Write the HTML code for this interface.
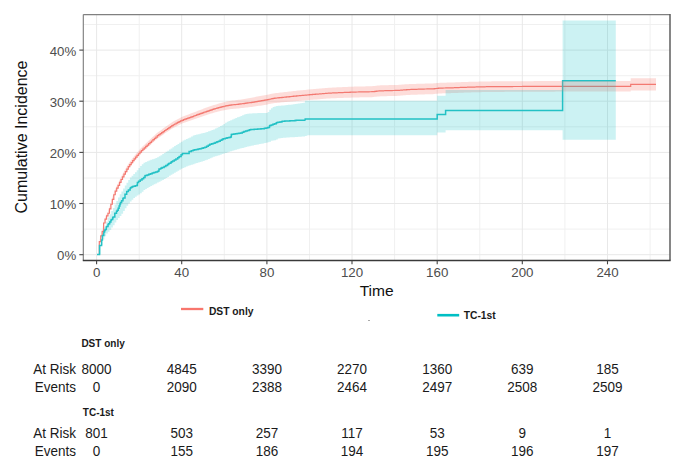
<!DOCTYPE html>
<html><head><meta charset="utf-8"><style>
html,body{margin:0;padding:0;background:#fff;}
svg{display:block;}
text{font-family:"Liberation Sans",sans-serif;}
.gmin{stroke:#f0f0f0;stroke-width:1;}
.gmaj{stroke:#e8e8e8;stroke-width:1;}
.tk{stroke:#444;stroke-width:1.1;}
.tl{font-size:13.5px;fill:#4d4d4d;}
.tl2{font-size:13.6px;fill:#4d4d4d;}
.tb{font-size:14px;fill:#1a1a1a;}
.bd{font-size:10px;font-weight:bold;fill:#1a1a1a;}
</style></head><body>
<svg width="685" height="472" viewBox="0 0 685 472">
<rect width="685" height="472" fill="#fff"/>
<line x1="139.2" y1="14.6" x2="139.2" y2="260.5" class="gmin"/><line x1="224.3" y1="14.6" x2="224.3" y2="260.5" class="gmin"/><line x1="309.5" y1="14.6" x2="309.5" y2="260.5" class="gmin"/><line x1="394.6" y1="14.6" x2="394.6" y2="260.5" class="gmin"/><line x1="479.8" y1="14.6" x2="479.8" y2="260.5" class="gmin"/><line x1="564.9" y1="14.6" x2="564.9" y2="260.5" class="gmin"/><line x1="650.1" y1="14.6" x2="650.1" y2="260.5" class="gmin"/><line x1="83.3" y1="229.1" x2="670.0" y2="229.1" class="gmin"/><line x1="83.3" y1="178.0" x2="670.0" y2="178.0" class="gmin"/><line x1="83.3" y1="126.8" x2="670.0" y2="126.8" class="gmin"/><line x1="83.3" y1="75.7" x2="670.0" y2="75.7" class="gmin"/><line x1="83.3" y1="24.5" x2="670.0" y2="24.5" class="gmin"/><line x1="96.6" y1="14.6" x2="96.6" y2="260.5" class="gmaj"/><line x1="181.7" y1="14.6" x2="181.7" y2="260.5" class="gmaj"/><line x1="266.9" y1="14.6" x2="266.9" y2="260.5" class="gmaj"/><line x1="352.0" y1="14.6" x2="352.0" y2="260.5" class="gmaj"/><line x1="437.2" y1="14.6" x2="437.2" y2="260.5" class="gmaj"/><line x1="522.3" y1="14.6" x2="522.3" y2="260.5" class="gmaj"/><line x1="607.5" y1="14.6" x2="607.5" y2="260.5" class="gmaj"/><line x1="83.3" y1="254.7" x2="670.0" y2="254.7" class="gmaj"/><line x1="83.3" y1="203.5" x2="670.0" y2="203.5" class="gmaj"/><line x1="83.3" y1="152.4" x2="670.0" y2="152.4" class="gmaj"/><line x1="83.3" y1="101.2" x2="670.0" y2="101.2" class="gmaj"/><line x1="83.3" y1="50.1" x2="670.0" y2="50.1" class="gmaj"/>
<path d="M97.00,254.50 L99.30,254.50 L99.30,241.70 L100.75,241.70 L100.75,235.82 L102.20,235.82 L102.20,231.34 L103.65,231.34 L103.65,223.01 L105.10,223.01 L105.10,219.07 L106.55,219.07 L106.55,215.78 L108.00,215.78 L108.00,213.27 L109.45,213.27 L109.45,208.82 L110.90,208.82 L110.90,204.23 L112.35,204.23 L112.35,199.38 L113.80,199.38 L113.80,194.74 L115.25,194.74 L115.25,191.10 L116.70,191.10 L116.70,188.20 L118.15,188.20 L118.15,185.30 L119.60,185.30 L119.60,182.40 L121.05,182.40 L121.05,179.50 L122.50,179.50 L122.50,176.79 L123.95,176.79 L123.95,174.14 L125.40,174.14 L125.40,171.54 L126.85,171.54 L126.85,169.06 L128.30,169.06 L128.30,166.71 L129.75,166.71 L129.75,164.56 L131.20,164.56 L131.20,162.54 L132.65,162.54 L132.65,160.70 L134.10,160.70 L134.10,158.90 L135.55,158.90 L135.55,157.15 L137.00,157.15 L137.00,155.43 L138.45,155.43 L138.45,153.77 L139.90,153.77 L139.90,152.12 L141.35,152.12 L141.35,150.48 L142.80,150.48 L142.80,149.11 L144.25,149.11 L144.25,147.79 L145.70,147.79 L145.70,146.43 L147.15,146.43 L147.15,145.03 L148.60,145.03 L148.60,143.68 L150.05,143.68 L150.05,142.35 L151.50,142.35 L151.50,141.02 L152.95,141.02 L152.95,139.68 L154.40,139.68 L154.40,138.35 L155.85,138.35 L155.85,137.03 L157.30,137.03 L157.30,135.70 L158.75,135.70 L158.75,134.71 L160.20,134.71 L160.20,133.72 L161.65,133.72 L161.65,132.71 L163.10,132.71 L163.10,131.60 L164.55,131.60 L164.55,130.49 L166.00,130.49 L166.00,129.50 L167.45,129.50 L167.45,128.53 L168.90,128.53 L168.90,127.57 L170.35,127.57 L170.35,126.62 L171.80,126.62 L171.80,125.68 L173.25,125.68 L173.25,124.76 L174.70,124.76 L174.70,123.98 L176.15,123.98 L176.15,123.20 L177.60,123.20 L177.60,122.43 L179.05,122.43 L179.05,121.66 L180.50,121.66 L180.50,120.92 L181.95,120.92 L181.95,120.30 L183.40,120.30 L183.40,119.68 L184.85,119.68 L184.85,119.11 L186.30,119.11 L186.30,118.60 L187.75,118.60 L187.75,118.09 L189.20,118.09 L189.20,117.58 L190.65,117.58 L190.65,117.07 L192.10,117.07 L192.10,116.54 L193.55,116.54 L193.55,116.02 L195.00,116.02 L195.00,115.50 L196.45,115.50 L196.45,114.96 L197.90,114.96 L197.90,114.42 L199.35,114.42 L199.35,113.89 L200.80,113.89 L200.80,113.35 L202.25,113.35 L202.25,112.81 L203.70,112.81 L203.70,112.27 L205.15,112.27 L205.15,111.78 L206.60,111.78 L206.60,111.29 L208.05,111.29 L208.05,110.80 L209.50,110.80 L209.50,110.31 L210.95,110.31 L210.95,109.82 L212.40,109.82 L212.40,109.33 L213.85,109.33 L213.85,108.91 L215.30,108.91 L215.30,108.50 L216.75,108.50 L216.75,108.09 L218.20,108.09 L218.20,107.68 L219.65,107.68 L219.65,107.28 L221.10,107.28 L221.10,106.87 L222.55,106.87 L222.55,106.53 L224.00,106.53 L224.00,106.23 L225.45,106.23 L225.45,105.94 L226.90,105.94 L226.90,105.65 L228.35,105.65 L228.35,105.36 L229.80,105.36 L229.80,105.06 L231.25,105.06 L231.25,104.86 L232.70,104.86 L232.70,104.76 L234.15,104.76 L234.15,104.66 L235.60,104.66 L235.60,104.52 L237.05,104.52 L237.05,104.32 L238.50,104.32 L238.50,104.13 L239.95,104.13 L239.95,103.93 L241.40,103.93 L241.40,103.74 L242.85,103.74 L242.85,103.54 L244.30,103.54 L244.30,103.34 L245.75,103.34 L245.75,103.15 L247.20,103.15 L247.20,102.95 L248.65,102.95 L248.65,102.76 L250.10,102.76 L250.10,102.55 L251.55,102.55 L251.55,102.30 L253.00,102.30 L253.00,102.06 L254.45,102.06 L254.45,101.81 L255.90,101.81 L255.90,101.57 L257.35,101.57 L257.35,101.32 L258.80,101.32 L258.80,101.08 L260.25,101.08 L260.25,100.83 L261.70,100.83 L261.70,100.59 L263.15,100.59 L263.15,100.34 L264.60,100.34 L264.60,100.10 L266.05,100.10 L266.05,99.82 L267.50,99.82 L267.50,99.54 L268.95,99.54 L268.95,99.26 L270.40,99.26 L270.40,98.98 L271.85,98.98 L271.85,98.71 L273.30,98.71 L273.30,98.43 L274.75,98.43 L274.75,98.15 L276.20,98.15 L276.20,97.98 L277.65,97.98 L277.65,97.83 L279.10,97.83 L279.10,97.68 L280.55,97.68 L280.55,97.53 L282.00,97.53 L282.00,97.38 L283.45,97.38 L283.45,97.23 L284.90,97.23 L284.90,97.08 L286.35,97.08 L286.35,96.93 L287.80,96.93 L287.80,96.78 L289.25,96.78 L289.25,96.63 L290.70,96.63 L290.70,96.49 L292.15,96.49 L292.15,96.34 L293.60,96.34 L293.60,96.19 L295.05,96.19 L295.05,96.04 L296.50,96.04 L296.50,95.89 L297.95,95.89 L297.95,95.75 L299.40,95.75 L299.40,95.62 L300.85,95.62 L300.85,95.49 L302.30,95.49 L302.30,95.36 L303.75,95.36 L303.75,95.23 L305.20,95.23 L305.20,95.11 L306.65,95.11 L306.65,94.98 L308.10,94.98 L308.10,94.85 L309.55,94.85 L309.55,94.72 L311.00,94.72 L311.00,94.59 L312.45,94.59 L312.45,94.46 L313.90,94.46 L313.90,94.34 L315.35,94.34 L315.35,94.22 L316.80,94.22 L316.80,94.10 L318.25,94.10 L318.25,93.99 L319.70,93.99 L319.70,93.87 L321.15,93.87 L321.15,93.75 L322.60,93.75 L322.60,93.63 L324.05,93.63 L324.05,93.51 L325.50,93.51 L325.50,93.39 L326.95,93.39 L326.95,93.27 L328.40,93.27 L328.40,93.15 L329.85,93.15 L329.85,93.06 L331.30,93.06 L331.30,93.00 L332.75,93.00 L332.75,92.93 L334.20,92.93 L334.20,92.86 L335.65,92.86 L335.65,92.80 L337.10,92.80 L337.10,92.73 L338.55,92.73 L338.55,92.67 L340.00,92.67 L340.00,92.60 L341.45,92.60 L341.45,92.55 L342.90,92.55 L342.90,92.49 L344.35,92.49 L344.35,92.44 L345.80,92.44 L345.80,92.38 L347.25,92.38 L347.25,92.33 L348.70,92.33 L348.70,92.28 L350.15,92.28 L350.15,92.22 L351.60,92.22 L351.60,92.17 L353.05,92.17 L353.05,92.11 L354.50,92.11 L354.50,92.06 L355.95,92.06 L355.95,92.01 L357.40,92.01 L357.40,91.98 L358.85,91.98 L358.85,91.95 L360.30,91.95 L360.30,91.92 L361.75,91.92 L361.75,91.89 L363.20,91.89 L363.20,91.87 L364.65,91.87 L364.65,91.84 L366.10,91.84 L366.10,91.81 L367.55,91.81 L367.55,91.79 L369.00,91.79 L369.00,91.76 L370.45,91.76 L370.45,91.73 L371.90,91.73 L371.90,91.70 L373.35,91.70 L373.35,91.54 L374.80,91.54 L374.80,91.36 L376.25,91.36 L376.25,91.18 L377.70,91.18 L377.70,91.00 L379.15,91.00 L379.15,90.88 L380.60,90.88 L380.60,90.84 L382.05,90.84 L382.05,90.79 L383.50,90.79 L383.50,90.75 L384.95,90.75 L384.95,90.70 L386.40,90.70 L386.40,90.66 L387.85,90.66 L387.85,90.61 L389.30,90.61 L389.30,90.58 L390.75,90.58 L390.75,90.55 L392.20,90.55 L392.20,90.52 L393.65,90.52 L393.65,90.49 L395.10,90.49 L395.10,90.46 L396.55,90.46 L396.55,90.43 L398.00,90.43 L398.00,90.38 L399.45,90.38 L399.45,90.26 L400.90,90.26 L400.90,90.14 L402.35,90.14 L402.35,90.02 L403.80,90.02 L403.80,89.90 L405.25,89.90 L405.25,89.78 L406.70,89.78 L406.70,89.66 L408.15,89.66 L408.15,89.57 L409.60,89.57 L409.60,89.51 L411.05,89.51 L411.05,89.46 L412.50,89.46 L412.50,89.40 L413.95,89.40 L413.95,89.35 L415.40,89.35 L415.40,89.29 L416.85,89.29 L416.85,89.23 L418.30,89.23 L418.30,89.18 L419.75,89.18 L419.75,89.12 L421.20,89.12 L421.20,89.08 L422.65,89.08 L422.65,89.04 L424.10,89.04 L424.10,89.01 L425.55,89.01 L425.55,88.98 L427.00,88.98 L427.00,88.94 L428.45,88.94 L428.45,88.91 L429.90,88.91 L429.90,88.88 L431.35,88.88 L431.35,88.84 L432.80,88.84 L432.80,88.81 L434.25,88.81 L434.25,88.68 L435.70,88.68 L435.70,88.52 L437.15,88.52 L437.15,88.36 L438.60,88.36 L438.60,88.21 L440.05,88.21 L440.05,88.09 L441.50,88.09 L441.50,88.05 L442.95,88.05 L442.95,88.01 L444.40,88.01 L444.40,87.98 L445.85,87.98 L445.85,87.94 L447.30,87.94 L447.30,87.90 L448.75,87.90 L448.75,87.87 L450.20,87.87 L450.20,87.83 L451.65,87.83 L451.65,87.79 L453.10,87.79 L453.10,87.74 L454.55,87.74 L454.55,87.68 L456.00,87.68 L456.00,87.63 L457.45,87.63 L457.45,87.58 L458.90,87.58 L458.90,87.52 L460.35,87.52 L460.35,87.47 L461.80,87.47 L461.80,87.42 L463.25,87.42 L463.25,87.36 L464.70,87.36 L464.70,87.31 L466.15,87.31 L466.15,87.26 L467.60,87.26 L467.60,87.20 L469.05,87.20 L469.05,87.15 L470.50,87.15 L470.50,87.10 L471.95,87.10 L471.95,87.06 L473.40,87.06 L473.40,87.03 L474.85,87.03 L474.85,87.00 L476.30,87.00 L476.30,86.96 L477.75,86.96 L477.75,86.93 L479.20,86.93 L479.20,86.89 L480.65,86.89 L480.65,86.86 L482.10,86.86 L482.10,86.82 L483.55,86.82 L483.55,86.79 L485.00,86.79 L485.00,86.76 L486.45,86.76 L486.45,86.72 L487.90,86.72 L487.90,86.70 L489.35,86.70 L489.35,86.69 L490.80,86.69 L490.80,86.68 L492.25,86.68 L492.25,86.67 L493.70,86.67 L493.70,86.66 L495.15,86.66 L495.15,86.65 L496.60,86.65 L496.60,86.64 L498.05,86.64 L498.05,86.63 L499.50,86.63 L499.50,86.62 L500.95,86.62 L500.95,86.60 L502.40,86.60 L502.40,86.59 L503.85,86.59 L503.85,86.58 L505.30,86.58 L505.30,86.57 L506.75,86.57 L506.75,86.56 L508.20,86.56 L508.20,86.55 L509.65,86.55 L509.65,86.54 L511.10,86.54 L511.10,86.53 L512.55,86.53 L512.55,86.52 L514.00,86.52 L514.00,86.51 L515.45,86.51 L515.45,86.50 L516.90,86.50 L516.90,86.50 L518.35,86.50 L518.35,86.49 L519.80,86.49 L519.80,86.48 L521.25,86.48 L521.25,86.48 L522.70,86.48 L522.70,86.47 L524.15,86.47 L524.15,86.46 L525.60,86.46 L525.60,86.46 L527.05,86.46 L527.05,86.45 L528.50,86.45 L528.50,86.44 L529.95,86.44 L529.95,86.44 L531.40,86.44 L531.40,86.43 L532.85,86.43 L532.85,86.43 L534.30,86.43 L534.30,86.42 L535.75,86.42 L535.75,86.41 L537.20,86.41 L537.20,86.41 L538.65,86.41 L538.65,86.40 L540.10,86.40 L540.10,86.39 L541.55,86.39 L541.55,86.39 L543.00,86.39 L543.00,86.38 L544.45,86.38 L544.45,86.37 L545.90,86.37 L545.90,86.37 L547.35,86.37 L547.35,86.36 L548.80,86.36 L548.80,86.36 L550.25,86.36 L550.25,86.35 L551.70,86.35 L551.70,86.34 L553.15,86.34 L553.15,86.34 L554.60,86.34 L554.60,86.33 L556.05,86.33 L556.05,86.32 L557.50,86.32 L557.50,86.32 L558.95,86.32 L558.95,86.31 L560.40,86.31 L560.40,86.30 L561.85,86.30 L561.85,86.30 L563.30,86.30 L563.30,86.30 L564.75,86.30 L564.75,86.30 L566.20,86.30 L566.20,86.30 L567.65,86.30 L567.65,86.30 L569.10,86.30 L569.10,86.30 L570.55,86.30 L570.55,86.30 L572.00,86.30 L572.00,86.30 L573.45,86.30 L573.45,86.30 L574.90,86.30 L574.90,86.30 L576.35,86.30 L576.35,86.30 L577.80,86.30 L577.80,86.30 L579.25,86.30 L579.25,86.30 L580.70,86.30 L580.70,86.30 L582.15,86.30 L582.15,86.30 L583.60,86.30 L583.60,86.30 L585.05,86.30 L585.05,86.30 L586.50,86.30 L586.50,86.30 L587.95,86.30 L587.95,86.30 L589.40,86.30 L589.40,86.30 L590.85,86.30 L590.85,86.30 L592.30,86.30 L592.30,86.30 L593.75,86.30 L593.75,86.30 L595.20,86.30 L595.20,86.30 L596.65,86.30 L596.65,86.30 L598.10,86.30 L598.10,86.30 L599.55,86.30 L599.55,86.30 L601.00,86.30 L601.00,86.30 L602.45,86.30 L602.45,86.30 L603.90,86.30 L603.90,86.30 L605.35,86.30 L605.35,86.30 L606.80,86.30 L606.80,86.30 L608.25,86.30 L608.25,86.30 L609.70,86.30 L609.70,86.30 L611.15,86.30 L611.15,86.30 L612.60,86.30 L612.60,86.30 L614.05,86.30 L614.05,86.30 L615.50,86.30 L615.50,86.30 L616.95,86.30 L616.95,86.30 L618.40,86.30 L618.40,86.30 L619.85,86.30 L619.85,86.30 L621.30,86.30 L621.30,86.30 L622.75,86.30 L622.75,86.30 L624.20,86.30 L624.20,86.30 L625.65,86.30 L625.65,86.30 L627.10,86.30 L627.10,86.30 L628.55,86.30 L628.55,86.30 L630.00,86.30 L630.00,86.30 L630.70,86.30 L630.70,86.30 L630.70,84.40 L656.00,84.40" fill="none" stroke="#F27A73" stroke-width="1.2"/>
<path d="M97.00,254.50 L99.50,254.50 L99.50,245.40 L99.50,245.40 L99.50,245.40 L101.20,245.40 L101.20,245.40 L101.60,245.40 L101.60,240.00 L102.40,240.00 L102.40,235.50 L102.90,235.50 L102.90,235.50 L103.80,235.50 L103.80,232.00 L104.60,232.00 L104.60,230.46 L105.10,230.46 L105.10,229.50 L106.30,229.50 L106.30,226.93 L106.50,226.93 L106.50,226.50 L108.00,226.50 L108.00,224.50 L108.60,224.50 L108.60,223.70 L109.70,223.70 L109.70,222.03 L110.90,222.03 L110.90,220.20 L111.40,220.20 L111.40,219.53 L112.70,219.53 L112.70,217.80 L113.10,217.80 L113.10,217.00 L114.80,217.00 L114.80,213.60 L115.00,213.60 L115.00,213.20 L116.50,213.20 L116.50,211.31 L117.30,211.31 L117.30,210.30 L118.20,210.30 L118.20,208.15 L119.10,208.15 L119.10,206.00 L119.90,206.00 L119.90,204.06 L120.50,204.06 L120.50,202.60 L121.60,202.60 L121.60,200.86 L122.90,200.86 L122.90,198.80 L123.30,198.80 L123.30,197.94 L125.00,197.94 L125.00,194.30 L125.00,194.30 L125.00,194.30 L126.70,194.30 L126.70,191.71 L126.90,191.71 L126.90,191.40 L128.40,191.40 L128.40,189.90 L130.10,189.90 L130.10,188.20 L130.70,188.20 L130.70,187.60 L131.80,187.60 L131.80,186.91 L132.60,186.91 L132.60,186.40 L133.50,186.40 L133.50,186.15 L135.20,186.15 L135.20,185.67 L136.90,185.67 L136.90,185.20 L136.90,185.20 L136.90,185.19 L137.40,185.19 L137.40,182.40 L138.60,182.40 L138.60,181.37 L140.20,181.37 L140.20,180.00 L140.30,180.00 L140.30,179.93 L142.00,179.93 L142.00,178.73 L143.60,178.73 L143.60,177.60 L143.70,177.60 L143.70,177.46 L145.00,177.46 L145.00,175.70 L145.40,175.70 L145.40,175.55 L147.10,175.55 L147.10,174.93 L148.80,174.93 L148.80,174.30 L148.80,174.30 L148.80,174.30 L150.50,174.30 L150.50,173.67 L152.20,173.67 L152.20,173.05 L152.60,173.05 L152.60,172.90 L153.90,172.90 L153.90,172.56 L155.60,172.56 L155.60,172.11 L156.40,172.11 L156.40,171.90 L157.30,171.90 L157.30,171.47 L158.30,171.47 L158.30,171.00 L159.00,171.00 L159.00,169.25 L159.10,169.25 L159.10,169.00 L160.70,169.00 L160.70,168.23 L162.00,168.23 L162.00,167.60 L162.40,167.60 L162.40,167.40 L164.10,167.40 L164.10,166.55 L164.20,166.55 L164.20,166.50 L165.80,166.50 L165.80,165.50 L167.50,165.50 L167.50,164.43 L168.50,164.43 L168.50,163.80 L169.20,163.80 L169.20,163.33 L170.90,163.33 L170.90,162.17 L171.60,162.17 L171.60,161.70 L172.60,161.70 L172.60,161.07 L174.30,161.07 L174.30,160.00 L175.90,160.00 L175.90,159.00 L176.00,159.00 L176.00,158.93 L177.70,158.93 L177.70,157.78 L179.00,157.78 L179.00,156.90 L179.40,156.90 L179.40,156.50 L181.10,156.50 L181.10,154.80 L182.40,154.80 L182.40,153.50 L182.80,153.50 L182.80,153.50 L184.50,153.50 L184.50,153.50 L186.20,153.50 L186.20,153.50 L187.90,153.50 L187.90,153.50 L188.00,153.50 L188.00,153.50 L189.10,153.50 L189.10,151.60 L189.60,151.60 L189.60,151.43 L191.30,151.43 L191.30,150.87 L193.00,150.87 L193.00,150.30 L193.90,150.30 L193.90,150.00 L194.70,150.00 L194.70,149.82 L196.40,149.82 L196.40,149.43 L198.10,149.43 L198.10,149.03 L199.80,149.03 L199.80,148.64 L201.50,148.64 L201.50,148.25 L203.20,148.25 L203.20,147.86 L203.90,147.86 L203.90,147.70 L204.90,147.70 L204.90,147.14 L206.60,147.14 L206.60,146.19 L208.30,146.19 L208.30,145.24 L209.80,145.24 L209.80,144.40 L210.00,144.40 L210.00,144.33 L211.70,144.33 L211.70,143.73 L213.40,143.73 L213.40,143.14 L215.10,143.14 L215.10,142.54 L216.80,142.54 L216.80,141.94 L217.20,141.94 L217.20,141.80 L218.50,141.80 L218.50,141.14 L220.20,141.14 L220.20,140.27 L221.90,140.27 L221.90,139.41 L223.10,139.41 L223.10,138.80 L223.60,138.80 L223.60,138.68 L225.30,138.68 L225.30,138.27 L227.00,138.27 L227.00,137.86 L228.70,137.86 L228.70,137.46 L230.40,137.46 L230.40,137.05 L230.60,137.05 L230.60,137.00 L231.30,137.00 L231.30,134.40 L232.10,134.40 L232.10,134.28 L233.80,134.28 L233.80,134.04 L235.50,134.04 L235.50,133.79 L237.20,133.79 L237.20,133.54 L238.90,133.54 L238.90,133.29 L240.60,133.29 L240.60,133.04 L240.90,133.04 L240.90,133.00 L242.30,133.00 L242.30,132.30 L243.90,132.30 L243.90,131.50 L244.00,131.50 L244.00,131.47 L245.70,131.47 L245.70,130.95 L247.40,130.95 L247.40,130.43 L249.10,130.43 L249.10,129.91 L249.80,129.91 L249.80,129.70 L250.80,129.70 L250.80,129.62 L252.50,129.62 L252.50,129.50 L254.20,129.50 L254.20,129.37 L255.90,129.37 L255.90,129.24 L257.60,129.24 L257.60,129.11 L259.30,129.11 L259.30,128.98 L261.00,128.98 L261.00,128.85 L261.70,128.85 L261.70,128.80 L262.70,128.80 L262.70,128.63 L264.40,128.63 L264.40,128.34 L266.10,128.34 L266.10,128.05 L267.60,128.05 L267.60,127.80 L267.80,127.80 L267.80,127.60 L269.50,127.60 L269.50,125.90 L269.80,125.90 L269.80,125.60 L271.20,125.60 L271.20,125.03 L272.90,125.03 L272.90,124.35 L274.50,124.35 L274.50,123.70 L274.60,123.70 L274.60,123.65 L276.30,123.65 L276.30,122.87 L277.10,122.87 L277.10,122.50 L278.00,122.50 L278.00,122.36 L279.70,122.36 L279.70,122.09 L281.40,122.09 L281.40,121.82 L281.50,121.82 L281.50,121.80 L282.20,121.80 L282.20,121.20 L283.10,121.20 L283.10,121.16 L284.80,121.16 L284.80,121.08 L286.50,121.08 L286.50,121.00 L288.20,121.00 L288.20,120.92 L289.90,120.92 L289.90,120.84 L291.60,120.84 L291.60,120.76 L293.30,120.76 L293.30,120.68 L294.90,120.68 L294.90,120.60 L295.00,120.60 L295.00,120.57 L296.10,120.57 L296.10,120.20 L296.70,120.20 L296.70,120.21 L298.40,120.21 L298.40,120.25 L300.10,120.25 L300.10,120.29 L301.80,120.29 L301.80,120.33 L303.50,120.33 L303.50,120.36 L305.20,120.36 L305.20,120.40 L305.20,120.40 L305.20,118.90 L305.20,118.90 L437.20,118.90 L437.20,114.60 L445.60,114.60 L445.60,110.40 L562.60,110.40 L562.60,80.70 L615.80,80.70" fill="none" stroke="#2CC2C6" stroke-width="1.5"/>
<path d="M99.30,240.90 L100.75,234.90 L102.20,230.29 L103.65,221.83 L105.10,217.76 L106.55,214.37 L108.00,211.76 L109.45,207.21 L110.90,202.52 L112.35,197.57 L113.80,192.82 L115.25,189.08 L116.70,186.07 L118.15,183.07 L119.60,180.07 L121.05,177.07 L122.50,174.28 L123.95,171.61 L125.40,168.99 L126.85,166.49 L128.30,164.12 L129.75,161.95 L131.20,159.91 L132.65,158.05 L134.10,156.22 L135.55,154.45 L137.00,152.71 L138.45,151.04 L139.90,149.37 L141.35,147.71 L142.80,146.31 L144.25,144.97 L145.70,143.59 L147.15,142.17 L148.60,140.80 L150.05,139.45 L151.50,138.10 L152.95,136.75 L154.40,135.40 L155.85,134.06 L157.30,132.71 L158.75,131.70 L160.20,130.70 L161.65,129.67 L163.10,128.54 L164.55,127.42 L166.00,126.41 L167.45,125.42 L168.90,124.44 L170.35,123.48 L171.80,122.52 L173.25,121.59 L174.70,120.78 L176.15,119.98 L177.60,119.18 L179.05,118.39 L180.50,117.63 L181.95,116.99 L183.40,116.35 L184.85,115.75 L186.30,115.22 L187.75,114.69 L189.20,114.15 L190.65,113.62 L192.10,113.07 L193.55,112.53 L195.00,111.98 L196.45,111.42 L197.90,110.86 L199.35,110.30 L200.80,109.74 L202.25,109.17 L203.70,108.61 L205.15,108.09 L206.60,107.57 L208.05,107.06 L209.50,106.55 L210.95,106.03 L212.40,105.52 L213.85,105.06 L215.30,104.63 L216.75,104.20 L218.20,103.76 L219.65,103.33 L221.10,102.90 L222.55,102.53 L224.00,102.21 L225.45,101.90 L226.90,101.58 L228.35,101.26 L229.80,100.94 L231.25,100.71 L232.70,100.58 L234.15,100.46 L235.60,100.30 L237.05,100.07 L238.50,99.85 L239.95,99.63 L241.40,99.40 L242.85,99.17 L244.30,98.94 L245.75,98.70 L247.20,98.47 L248.65,98.24 L250.10,98.00 L251.55,97.72 L253.00,97.43 L254.45,97.15 L255.90,96.87 L257.35,96.59 L258.80,96.31 L260.25,96.03 L261.70,95.78 L263.15,95.52 L264.60,95.27 L266.05,94.98 L267.50,94.69 L268.95,94.40 L270.40,94.12 L271.85,93.83 L273.30,93.54 L274.75,93.25 L276.20,93.06 L277.65,92.90 L279.10,92.73 L280.55,92.56 L282.00,92.39 L283.45,92.23 L284.90,92.06 L286.35,91.89 L287.80,91.73 L289.25,91.56 L290.70,91.40 L292.15,91.23 L293.60,91.07 L295.05,90.90 L296.50,90.73 L297.95,90.58 L299.40,90.43 L300.85,90.29 L302.30,90.15 L303.75,90.02 L305.20,89.88 L306.65,89.74 L308.10,89.61 L309.55,89.47 L311.00,89.33 L312.45,89.20 L313.90,89.07 L315.35,88.95 L316.80,88.82 L318.25,88.69 L319.70,88.57 L321.15,88.44 L322.60,88.31 L324.05,88.19 L325.50,88.06 L326.95,87.93 L328.40,87.81 L329.85,87.71 L331.30,87.64 L332.75,87.57 L334.20,87.49 L335.65,87.42 L337.10,87.35 L338.55,87.27 L340.00,87.20 L341.45,87.14 L342.90,87.08 L344.35,87.03 L345.80,86.97 L347.25,86.91 L348.70,86.85 L350.15,86.80 L351.60,86.74 L353.05,86.68 L354.50,86.62 L355.95,86.57 L357.40,86.53 L358.85,86.50 L360.30,86.47 L361.75,86.44 L363.20,86.41 L364.65,86.38 L366.10,86.35 L367.55,86.32 L369.00,86.29 L370.45,86.25 L371.90,86.22 L373.35,86.06 L374.80,85.88 L376.25,85.69 L377.70,85.51 L379.15,85.38 L380.60,85.34 L382.05,85.30 L383.50,85.26 L384.95,85.21 L386.40,85.17 L387.85,85.13 L389.30,85.10 L390.75,85.08 L392.20,85.05 L393.65,85.03 L395.10,85.00 L396.55,84.97 L398.00,84.93 L399.45,84.82 L400.90,84.70 L402.35,84.58 L403.80,84.47 L405.25,84.35 L406.70,84.23 L408.15,84.15 L409.60,84.10 L411.05,84.05 L412.50,84.00 L413.95,83.94 L415.40,83.89 L416.85,83.84 L418.30,83.79 L419.75,83.73 L421.20,83.70 L422.65,83.67 L424.10,83.64 L425.55,83.61 L427.00,83.58 L428.45,83.55 L429.90,83.52 L431.35,83.49 L432.80,83.46 L434.25,83.33 L435.70,83.18 L437.15,83.03 L438.60,82.88 L440.05,82.76 L441.50,82.73 L442.95,82.69 L444.40,82.66 L445.85,82.63 L447.30,82.60 L448.75,82.56 L450.20,82.53 L451.65,82.49 L453.10,82.44 L454.55,82.38 L456.00,82.33 L457.45,82.28 L458.90,82.22 L460.35,82.17 L461.80,82.12 L463.25,82.06 L464.70,82.01 L466.15,81.96 L467.60,81.90 L469.05,81.85 L470.50,81.80 L471.95,81.76 L473.40,81.73 L474.85,81.70 L476.30,81.66 L477.75,81.63 L479.20,81.59 L480.65,81.56 L482.10,81.52 L483.55,81.49 L485.00,81.46 L486.45,81.42 L487.90,81.40 L489.35,81.39 L490.80,81.38 L492.25,81.37 L493.70,81.36 L495.15,81.35 L496.60,81.34 L498.05,81.33 L499.50,81.32 L500.95,81.30 L502.40,81.29 L503.85,81.28 L505.30,81.27 L506.75,81.26 L508.20,81.25 L509.65,81.24 L511.10,81.23 L512.55,81.22 L514.00,81.21 L515.45,81.20 L516.90,81.20 L518.35,81.19 L519.80,81.18 L521.25,81.18 L522.70,81.17 L524.15,81.16 L525.60,81.16 L527.05,81.15 L528.50,81.14 L529.95,81.14 L531.40,81.13 L532.85,81.13 L534.30,81.12 L535.75,81.11 L537.20,81.11 L538.65,81.10 L540.10,81.09 L541.55,81.09 L543.00,81.08 L544.45,81.07 L545.90,81.07 L547.35,81.06 L548.80,81.06 L550.25,81.05 L551.70,81.04 L553.15,81.04 L554.60,81.03 L556.05,81.02 L557.50,81.02 L558.95,81.01 L560.40,81.00 L561.85,81.00 L563.30,81.00 L564.75,81.00 L566.20,81.00 L567.65,81.00 L569.10,81.00 L570.55,81.00 L572.00,81.00 L573.45,81.00 L574.90,81.00 L576.35,81.00 L577.80,81.00 L579.25,81.00 L580.70,81.00 L582.15,81.00 L583.60,81.00 L585.05,81.00 L586.50,81.00 L587.95,81.00 L589.40,81.00 L590.85,81.00 L592.30,81.00 L593.75,81.00 L595.20,81.00 L596.65,81.00 L598.10,81.00 L599.55,81.00 L601.00,81.00 L602.45,81.00 L603.90,81.00 L605.35,81.00 L606.80,81.00 L608.25,81.00 L609.70,81.00 L611.15,81.00 L612.60,81.00 L614.05,81.00 L615.50,81.00 L616.95,81.00 L618.40,81.00 L619.85,81.00 L621.30,81.00 L622.75,81.00 L624.20,81.00 L625.65,81.00 L627.10,81.00 L628.55,81.00 L630.00,81.00 L630.70,81.00 L630.70,78.30 L656.00,78.30 L656.00,90.50 L630.70,90.50 L630.70,91.60 L630.00,91.60 L628.55,91.60 L627.10,91.60 L625.65,91.60 L624.20,91.60 L622.75,91.60 L621.30,91.60 L619.85,91.60 L618.40,91.60 L616.95,91.60 L615.50,91.60 L614.05,91.60 L612.60,91.60 L611.15,91.60 L609.70,91.60 L608.25,91.60 L606.80,91.60 L605.35,91.60 L603.90,91.60 L602.45,91.60 L601.00,91.60 L599.55,91.60 L598.10,91.60 L596.65,91.60 L595.20,91.60 L593.75,91.60 L592.30,91.60 L590.85,91.60 L589.40,91.60 L587.95,91.60 L586.50,91.60 L585.05,91.60 L583.60,91.60 L582.15,91.60 L580.70,91.60 L579.25,91.60 L577.80,91.60 L576.35,91.60 L574.90,91.60 L573.45,91.60 L572.00,91.60 L570.55,91.60 L569.10,91.60 L567.65,91.60 L566.20,91.60 L564.75,91.60 L563.30,91.60 L561.85,91.60 L560.40,91.60 L558.95,91.61 L557.50,91.62 L556.05,91.62 L554.60,91.63 L553.15,91.64 L551.70,91.64 L550.25,91.65 L548.80,91.66 L547.35,91.66 L545.90,91.67 L544.45,91.67 L543.00,91.68 L541.55,91.69 L540.10,91.69 L538.65,91.70 L537.20,91.71 L535.75,91.71 L534.30,91.72 L532.85,91.73 L531.40,91.73 L529.95,91.74 L528.50,91.74 L527.05,91.75 L525.60,91.76 L524.15,91.76 L522.70,91.77 L521.25,91.78 L519.80,91.78 L518.35,91.79 L516.90,91.80 L515.45,91.80 L514.00,91.81 L512.55,91.82 L511.10,91.83 L509.65,91.84 L508.20,91.85 L506.75,91.86 L505.30,91.87 L503.85,91.88 L502.40,91.89 L500.95,91.90 L499.50,91.92 L498.05,91.93 L496.60,91.94 L495.15,91.95 L493.70,91.96 L492.25,91.97 L490.80,91.98 L489.35,91.99 L487.90,92.00 L486.45,92.02 L485.00,92.06 L483.55,92.09 L482.10,92.12 L480.65,92.16 L479.20,92.19 L477.75,92.23 L476.30,92.26 L474.85,92.30 L473.40,92.33 L471.95,92.36 L470.50,92.40 L469.05,92.45 L467.60,92.50 L466.15,92.56 L464.70,92.61 L463.25,92.66 L461.80,92.72 L460.35,92.77 L458.90,92.82 L457.45,92.88 L456.00,92.93 L454.55,92.98 L453.10,93.04 L451.65,93.09 L450.20,93.13 L448.75,93.17 L447.30,93.21 L445.85,93.25 L444.40,93.29 L442.95,93.33 L441.50,93.38 L440.05,93.42 L438.60,93.54 L437.15,93.70 L435.70,93.86 L434.25,94.02 L432.80,94.16 L431.35,94.19 L429.90,94.23 L428.45,94.27 L427.00,94.31 L425.55,94.35 L424.10,94.38 L422.65,94.42 L421.20,94.46 L419.75,94.51 L418.30,94.57 L416.85,94.63 L415.40,94.69 L413.95,94.75 L412.50,94.81 L411.05,94.87 L409.60,94.93 L408.15,94.99 L406.70,95.08 L405.25,95.21 L403.80,95.33 L402.35,95.46 L400.90,95.58 L399.45,95.71 L398.00,95.83 L396.55,95.88 L395.10,95.91 L393.65,95.95 L392.20,95.98 L390.75,96.02 L389.30,96.05 L387.85,96.09 L386.40,96.14 L384.95,96.19 L383.50,96.24 L382.05,96.28 L380.60,96.33 L379.15,96.38 L377.70,96.49 L376.25,96.67 L374.80,96.85 L373.35,97.03 L371.90,97.18 L370.45,97.21 L369.00,97.23 L367.55,97.25 L366.10,97.28 L364.65,97.30 L363.20,97.32 L361.75,97.35 L360.30,97.37 L358.85,97.40 L357.40,97.42 L355.95,97.45 L354.50,97.50 L353.05,97.55 L351.60,97.60 L350.15,97.65 L348.70,97.70 L347.25,97.75 L345.80,97.80 L344.35,97.85 L342.90,97.90 L341.45,97.95 L340.00,98.00 L338.55,98.06 L337.10,98.12 L335.65,98.18 L334.20,98.23 L332.75,98.29 L331.30,98.35 L329.85,98.41 L328.40,98.49 L326.95,98.60 L325.50,98.72 L324.05,98.83 L322.60,98.94 L321.15,99.05 L319.70,99.16 L318.25,99.28 L316.80,99.39 L315.35,99.50 L313.90,99.61 L312.45,99.73 L311.00,99.84 L309.55,99.97 L308.10,100.09 L306.65,100.21 L305.20,100.33 L303.75,100.45 L302.30,100.58 L300.85,100.70 L299.40,100.81 L297.95,100.93 L296.50,101.05 L295.05,101.18 L293.60,101.31 L292.15,101.44 L290.70,101.57 L289.25,101.71 L287.80,101.84 L286.35,101.97 L284.90,102.10 L283.45,102.23 L282.00,102.36 L280.55,102.49 L279.10,102.63 L277.65,102.76 L276.20,102.89 L274.75,103.05 L273.30,103.32 L271.85,103.58 L270.40,103.85 L268.95,104.12 L267.50,104.39 L266.05,104.66 L264.60,104.93 L263.15,105.17 L261.70,105.40 L260.25,105.64 L258.80,105.85 L257.35,106.06 L255.90,106.27 L254.45,106.48 L253.00,106.68 L251.55,106.89 L250.10,107.10 L248.65,107.27 L247.20,107.43 L245.75,107.59 L244.30,107.75 L242.85,107.91 L241.40,108.07 L239.95,108.23 L238.50,108.40 L237.05,108.57 L235.60,108.74 L234.15,108.86 L232.70,108.93 L231.25,109.00 L229.80,109.18 L228.35,109.45 L226.90,109.72 L225.45,109.99 L224.00,110.25 L222.55,110.52 L221.10,110.84 L219.65,111.22 L218.20,111.60 L216.75,111.98 L215.30,112.37 L213.85,112.75 L212.40,113.15 L210.95,113.62 L209.50,114.08 L208.05,114.54 L206.60,115.01 L205.15,115.47 L203.70,115.94 L202.25,116.45 L200.80,116.96 L199.35,117.48 L197.90,117.99 L196.45,118.51 L195.00,119.02 L193.55,119.52 L192.10,120.02 L190.65,120.52 L189.20,121.01 L187.75,121.49 L186.30,121.98 L184.85,122.46 L183.40,123.02 L181.95,123.61 L180.50,124.20 L179.05,124.92 L177.60,125.67 L176.15,126.42 L174.70,127.18 L173.25,127.94 L171.80,128.84 L170.35,129.77 L168.90,130.69 L167.45,131.64 L166.00,132.59 L164.55,133.57 L163.10,134.66 L161.65,135.75 L160.20,136.74 L158.75,137.71 L157.30,138.69 L155.85,140.00 L154.40,141.30 L152.95,142.62 L151.50,143.94 L150.05,145.25 L148.60,146.56 L147.15,147.89 L145.70,149.27 L144.25,150.61 L142.80,151.91 L141.35,153.26 L139.90,154.88 L138.45,156.51 L137.00,158.14 L135.55,159.84 L134.10,161.57 L132.65,163.36 L131.20,165.17 L129.75,167.17 L128.30,169.30 L126.85,171.63 L125.40,174.09 L123.95,176.66 L122.50,179.30 L121.05,181.93 L119.60,184.73 L118.15,187.53 L116.70,190.33 L115.25,193.12 L113.80,196.66 L112.35,201.20 L110.90,205.95 L109.45,210.44 L108.00,214.78 L106.55,217.19 L105.10,220.38 L103.65,224.19 L102.20,232.39 L100.75,236.75 L99.30,242.50Z" fill="#F8766D" fill-opacity="0.25"/>
<path d="M99.30,245.00 L101.00,245.00 L101.00,240.00 L102.70,240.00 L102.70,233.20 L104.40,233.20 L104.40,226.80 L106.10,226.80 L106.10,221.75 L107.80,221.75 L107.80,217.50 L109.50,217.50 L109.50,214.37 L111.20,214.37 L111.20,211.00 L112.90,211.00 L112.90,208.04 L114.60,208.04 L114.60,204.61 L116.30,204.61 L116.30,201.00 L118.00,201.00 L118.00,197.60 L119.70,197.60 L119.70,194.33 L121.40,194.33 L121.40,191.50 L123.10,191.50 L123.10,188.46 L124.80,188.46 L124.80,185.48 L126.50,185.48 L126.50,182.71 L128.20,182.71 L128.20,180.03 L129.90,180.03 L129.90,177.40 L131.60,177.40 L131.60,175.70 L133.30,175.70 L133.30,173.99 L135.00,173.99 L135.00,172.23 L136.70,172.23 L136.70,170.28 L138.40,170.28 L138.40,168.03 L140.10,168.03 L140.10,166.11 L141.80,166.11 L141.80,164.21 L143.50,164.21 L143.50,162.81 L145.20,162.81 L145.20,161.98 L146.90,161.98 L146.90,161.15 L148.60,161.15 L148.60,160.45 L150.30,160.45 L150.30,159.76 L152.00,159.76 L152.00,159.15 L153.70,159.15 L153.70,158.63 L155.40,158.63 L155.40,158.10 L157.10,158.10 L157.10,157.16 L158.80,157.16 L158.80,156.22 L160.50,156.22 L160.50,155.23 L162.20,155.23 L162.20,154.10 L163.90,154.10 L163.90,152.97 L165.60,152.97 L165.60,151.83 L167.30,151.83 L167.30,150.70 L169.00,150.70 L169.00,149.57 L170.70,149.57 L170.70,148.43 L172.40,148.43 L172.40,147.27 L174.10,147.27 L174.10,146.12 L175.80,146.12 L175.80,144.98 L177.50,144.98 L177.50,143.88 L179.20,143.88 L179.20,142.78 L180.90,142.78 L180.90,141.67 L182.60,141.67 L182.60,140.56 L184.30,140.56 L184.30,139.73 L186.00,139.73 L186.00,138.98 L187.70,138.98 L187.70,138.23 L189.40,138.23 L189.40,137.40 L191.10,137.40 L191.10,136.39 L192.80,136.39 L192.80,135.38 L194.50,135.38 L194.50,134.90 L196.20,134.90 L196.20,134.53 L197.90,134.53 L197.90,134.16 L199.60,134.16 L199.60,133.77 L201.30,133.77 L201.30,133.34 L203.00,133.34 L203.00,132.91 L204.70,132.91 L204.70,132.48 L206.40,132.48 L206.40,131.90 L208.10,131.90 L208.10,131.29 L209.80,131.29 L209.80,130.68 L211.50,130.68 L211.50,130.07 L213.20,130.07 L213.20,129.40 L214.90,129.40 L214.90,128.56 L216.60,128.56 L216.60,127.72 L218.30,127.72 L218.30,126.88 L220.00,126.88 L220.00,126.04 L221.70,126.04 L221.70,125.20 L223.40,125.20 L223.40,124.01 L225.10,124.01 L225.10,122.83 L226.80,122.83 L226.80,121.82 L228.50,121.82 L228.50,121.00 L230.20,121.00 L230.20,120.19 L231.90,120.19 L231.90,119.41 L233.60,119.41 L233.60,118.64 L235.30,118.64 L235.30,117.90 L237.00,117.90 L237.00,117.32 L238.70,117.32 L238.70,116.74 L240.40,116.74 L240.40,116.07 L242.10,116.07 L242.10,115.35 L243.80,115.35 L243.80,114.62 L245.50,114.62 L245.50,113.90 L247.20,113.90 L247.20,113.75 L248.90,113.75 L248.90,113.61 L250.60,113.61 L250.60,113.46 L252.30,113.46 L252.30,113.32 L254.00,113.32 L254.00,113.24 L255.70,113.24 L255.70,113.16 L257.40,113.16 L257.40,113.10 L259.10,113.10 L259.10,113.08 L260.80,113.08 L260.80,113.06 L262.50,113.06 L262.50,113.05 L264.20,113.05 L264.20,113.03 L265.90,113.03 L265.90,113.01 L267.60,113.01 L267.60,112.05 L269.30,112.05 L269.30,109.81 L271.00,109.81 L271.00,108.17 L272.70,108.17 L272.70,106.97 L274.40,106.97 L274.40,106.41 L276.10,106.41 L276.10,105.93 L277.80,105.93 L277.80,105.80 L279.50,105.80 L279.50,105.68 L281.20,105.68 L281.20,105.56 L282.90,105.56 L282.90,105.43 L284.60,105.43 L284.60,105.31 L286.30,105.31 L286.30,105.09 L288.00,105.09 L288.00,104.86 L289.70,104.86 L289.70,104.63 L291.40,104.63 L291.40,104.40 L293.10,104.40 L293.10,104.18 L294.80,104.18 L294.80,103.95 L296.50,103.95 L296.50,103.72 L298.20,103.72 L298.20,103.49 L299.90,103.49 L299.90,103.27 L301.60,103.27 L301.60,103.04 L303.30,103.04 L303.30,102.81 L304.90,102.81 L304.90,102.60 L304.90,100.80 L437.20,100.80 L437.20,95.70 L445.60,95.70 L445.60,90.00 L562.60,90.00 L562.60,20.40 L615.80,20.40 L615.80,139.70 L562.60,139.70 L562.60,130.20 L445.60,130.20 L445.60,132.60 L437.20,132.60 L437.20,135.20 L307.60,135.20 L307.60,135.48 L306.70,135.48 L306.70,136.00 L305.00,136.00 L305.00,136.43 L303.30,136.43 L303.30,136.54 L301.60,136.54 L301.60,136.66 L299.90,136.66 L299.90,136.78 L298.20,136.78 L298.20,136.89 L296.50,136.89 L296.50,137.01 L294.80,137.01 L294.80,137.13 L293.10,137.13 L293.10,137.24 L291.40,137.24 L291.40,137.36 L289.70,137.36 L289.70,137.47 L288.00,137.47 L288.00,137.59 L286.30,137.59 L286.30,137.71 L284.60,137.71 L284.60,137.87 L282.90,137.87 L282.90,138.03 L281.20,138.03 L281.20,138.19 L279.50,138.19 L279.50,138.59 L277.80,138.59 L277.80,139.57 L276.10,139.57 L276.10,140.28 L274.40,140.28 L274.40,140.51 L272.70,140.51 L272.70,140.75 L271.00,140.75 L271.00,141.67 L269.30,141.67 L269.30,142.30 L267.60,142.30 L267.60,142.69 L265.90,142.69 L265.90,143.07 L264.20,143.07 L264.20,143.43 L262.50,143.43 L262.50,143.75 L260.80,143.75 L260.80,144.07 L259.10,144.07 L259.10,144.39 L257.40,144.39 L257.40,144.72 L255.70,144.72 L255.70,145.07 L254.00,145.07 L254.00,145.41 L252.30,145.41 L252.30,145.76 L250.60,145.76 L250.60,146.18 L248.90,146.18 L248.90,146.60 L247.20,146.60 L247.20,147.03 L245.50,147.03 L245.50,147.45 L243.80,147.45 L243.80,147.88 L242.10,147.88 L242.10,148.34 L240.40,148.34 L240.40,148.80 L238.70,148.80 L238.70,149.26 L237.00,149.26 L237.00,149.72 L235.30,149.72 L235.30,150.21 L233.60,150.21 L233.60,150.72 L231.90,150.72 L231.90,151.23 L230.20,151.23 L230.20,151.81 L228.50,151.81 L228.50,152.38 L226.80,152.38 L226.80,152.95 L225.10,152.95 L225.10,153.53 L223.40,153.53 L223.40,154.10 L221.70,154.10 L221.70,154.65 L220.00,154.65 L220.00,155.21 L218.30,155.21 L218.30,155.76 L216.60,155.76 L216.60,156.32 L214.90,156.32 L214.90,156.87 L213.20,156.87 L213.20,157.54 L211.50,157.54 L211.50,158.25 L209.80,158.25 L209.80,158.95 L208.10,158.95 L208.10,159.66 L206.40,159.66 L206.40,160.37 L204.70,160.37 L204.70,160.98 L203.00,160.98 L203.00,161.51 L201.30,161.51 L201.30,162.03 L199.60,162.03 L199.60,162.56 L197.90,162.56 L197.90,163.09 L196.20,163.09 L196.20,163.61 L194.50,163.61 L194.50,164.16 L192.80,164.16 L192.80,164.72 L191.10,164.72 L191.10,165.28 L189.40,165.28 L189.40,165.83 L187.70,165.83 L187.70,166.52 L186.00,166.52 L186.00,167.22 L184.30,167.22 L184.30,167.92 L182.60,167.92 L182.60,168.87 L180.90,168.87 L180.90,169.86 L179.20,169.86 L179.20,170.85 L177.50,170.85 L177.50,171.85 L175.80,171.85 L175.80,172.84 L174.10,172.84 L174.10,173.84 L172.40,173.84 L172.40,174.84 L170.70,174.84 L170.70,175.87 L169.00,175.87 L169.00,176.89 L167.30,176.89 L167.30,177.92 L165.60,177.92 L165.60,178.99 L163.90,178.99 L163.90,179.95 L162.20,179.95 L162.20,180.80 L160.50,180.80 L160.50,181.65 L158.80,181.65 L158.80,182.51 L157.10,182.51 L157.10,183.38 L155.40,183.38 L155.40,184.25 L153.70,184.25 L153.70,185.18 L152.00,185.18 L152.00,186.11 L150.30,186.11 L150.30,187.06 L148.60,187.06 L148.60,187.99 L146.90,187.99 L146.90,188.90 L145.20,188.90 L145.20,190.00 L143.50,190.00 L143.50,191.70 L141.80,191.70 L141.80,193.36 L140.10,193.36 L140.10,194.42 L138.40,194.42 L138.40,195.48 L136.70,195.48 L136.70,196.78 L135.00,196.78 L135.00,198.11 L133.30,198.11 L133.30,199.70 L131.60,199.70 L131.60,201.40 L129.90,201.40 L129.90,203.46 L128.20,203.46 L128.20,205.85 L126.50,205.85 L126.50,208.37 L124.80,208.37 L124.80,211.11 L123.10,211.11 L123.10,213.85 L121.40,213.85 L121.40,216.12 L119.70,216.12 L119.70,218.07 L118.00,218.07 L118.00,219.89 L116.30,219.89 L116.30,222.55 L114.60,222.55 L114.60,225.15 L112.90,225.15 L112.90,227.60 L111.20,227.60 L111.20,229.93 L109.50,229.93 L109.50,231.70 L107.80,231.70 L107.80,233.40 L106.10,233.40 L106.10,236.20 L104.40,236.20 L104.40,239.60 L102.70,239.60 L102.70,245.00 L101.00,245.00 L101.00,254.50 L99.30,254.50Z" fill="#00BFC4" fill-opacity="0.2"/>
<line x1="83.3" y1="14.6" x2="670.0" y2="14.6" stroke="#808080" stroke-width="1.2"/>
<line x1="670.0" y1="14.0" x2="670.0" y2="260.5" stroke="#5e5e5e" stroke-width="1.5"/>
<line x1="83.3" y1="14.6" x2="83.3" y2="260.5" stroke="#7a7a7a" stroke-width="1.1"/>
<line x1="82.8" y1="260.5" x2="670.6" y2="260.5" stroke="#3a3a3a" stroke-width="1.3"/>
<line x1="79.3" y1="254.7" x2="83.3" y2="254.7" class="tk"/><text transform="translate(76.20,260.20) scale(0.98,1)" class="tl" text-anchor="end">0%</text><line x1="79.3" y1="203.5" x2="83.3" y2="203.5" class="tk"/><text transform="translate(76.20,209.05) scale(0.98,1)" class="tl" text-anchor="end">10%</text><line x1="79.3" y1="152.4" x2="83.3" y2="152.4" class="tk"/><text transform="translate(76.20,157.90) scale(0.98,1)" class="tl" text-anchor="end">20%</text><line x1="79.3" y1="101.2" x2="83.3" y2="101.2" class="tk"/><text transform="translate(76.20,106.75) scale(0.98,1)" class="tl" text-anchor="end">30%</text><line x1="79.3" y1="50.1" x2="83.3" y2="50.1" class="tk"/><text transform="translate(76.20,55.60) scale(0.98,1)" class="tl" text-anchor="end">40%</text><line x1="96.6" y1="260.5" x2="96.6" y2="264.3" class="tk"/><text transform="translate(96.60,277.45) scale(0.98,1)" class="tl2" text-anchor="middle">0</text><line x1="181.7" y1="260.5" x2="181.7" y2="264.3" class="tk"/><text transform="translate(181.75,277.45) scale(0.98,1)" class="tl2" text-anchor="middle">40</text><line x1="266.9" y1="260.5" x2="266.9" y2="264.3" class="tk"/><text transform="translate(266.90,277.45) scale(0.98,1)" class="tl2" text-anchor="middle">80</text><line x1="352.0" y1="260.5" x2="352.0" y2="264.3" class="tk"/><text transform="translate(352.04,277.45) scale(0.98,1)" class="tl2" text-anchor="middle">120</text><line x1="437.2" y1="260.5" x2="437.2" y2="264.3" class="tk"/><text transform="translate(437.19,277.45) scale(0.98,1)" class="tl2" text-anchor="middle">160</text><line x1="522.3" y1="260.5" x2="522.3" y2="264.3" class="tk"/><text transform="translate(522.34,277.45) scale(0.98,1)" class="tl2" text-anchor="middle">200</text><line x1="607.5" y1="260.5" x2="607.5" y2="264.3" class="tk"/><text transform="translate(607.49,277.45) scale(0.98,1)" class="tl2" text-anchor="middle">240</text>
<text x="376.7" y="295.8" font-size="15.2" fill="#111" text-anchor="middle" textLength="34" lengthAdjust="spacingAndGlyphs">Time</text>
<text transform="translate(27.3,137) rotate(-90)" font-size="16" fill="#111" text-anchor="middle">Cumulative Incidence</text>
<line x1="181" y1="309" x2="203.3" y2="309" stroke="#F8766D" stroke-width="2.3"/>
<text transform="translate(208.9,315.0) scale(1.03,1)" class="bd">DST only</text>
<line x1="437.3" y1="315.2" x2="459.2" y2="315.2" stroke="#00BFC4" stroke-width="2.6"/>
<text transform="translate(463.7,319.3) scale(1.03,1)" class="bd">TC-1st</text>
<rect x="368" y="320" width="2" height="1" fill="#aaa"/>
<text x="81.4" y="346.5" class="bd">DST only</text>
<text x="82.8" y="416.4" class="bd">TC-1st</text>
<text transform="translate(76.00,373.70) scale(0.965,1)" class="tb" text-anchor="end">At Risk</text><text transform="translate(96.60,373.70) scale(0.965,1)" class="tb" text-anchor="middle">8000</text><text transform="translate(181.75,373.70) scale(0.965,1)" class="tb" text-anchor="middle">4845</text><text transform="translate(266.90,373.70) scale(0.965,1)" class="tb" text-anchor="middle">3390</text><text transform="translate(352.04,373.70) scale(0.965,1)" class="tb" text-anchor="middle">2270</text><text transform="translate(437.19,373.70) scale(0.965,1)" class="tb" text-anchor="middle">1360</text><text transform="translate(522.34,373.70) scale(0.965,1)" class="tb" text-anchor="middle">639</text><text transform="translate(607.49,373.70) scale(0.965,1)" class="tb" text-anchor="middle">185</text><text transform="translate(76.00,391.60) scale(0.965,1)" class="tb" text-anchor="end">Events</text><text transform="translate(96.60,391.60) scale(0.965,1)" class="tb" text-anchor="middle">0</text><text transform="translate(181.75,391.60) scale(0.965,1)" class="tb" text-anchor="middle">2090</text><text transform="translate(266.90,391.60) scale(0.965,1)" class="tb" text-anchor="middle">2388</text><text transform="translate(352.04,391.60) scale(0.965,1)" class="tb" text-anchor="middle">2464</text><text transform="translate(437.19,391.60) scale(0.965,1)" class="tb" text-anchor="middle">2497</text><text transform="translate(522.34,391.60) scale(0.965,1)" class="tb" text-anchor="middle">2508</text><text transform="translate(607.49,391.60) scale(0.965,1)" class="tb" text-anchor="middle">2509</text><text transform="translate(76.00,437.80) scale(0.965,1)" class="tb" text-anchor="end">At Risk</text><text transform="translate(96.60,437.80) scale(0.965,1)" class="tb" text-anchor="middle">801</text><text transform="translate(181.75,437.80) scale(0.965,1)" class="tb" text-anchor="middle">503</text><text transform="translate(266.90,437.80) scale(0.965,1)" class="tb" text-anchor="middle">257</text><text transform="translate(352.04,437.80) scale(0.965,1)" class="tb" text-anchor="middle">117</text><text transform="translate(437.19,437.80) scale(0.965,1)" class="tb" text-anchor="middle">53</text><text transform="translate(522.34,437.80) scale(0.965,1)" class="tb" text-anchor="middle">9</text><text transform="translate(607.49,437.80) scale(0.965,1)" class="tb" text-anchor="middle">1</text><text transform="translate(76.00,455.50) scale(0.965,1)" class="tb" text-anchor="end">Events</text><text transform="translate(96.60,455.50) scale(0.965,1)" class="tb" text-anchor="middle">0</text><text transform="translate(181.75,455.50) scale(0.965,1)" class="tb" text-anchor="middle">155</text><text transform="translate(266.90,455.50) scale(0.965,1)" class="tb" text-anchor="middle">186</text><text transform="translate(352.04,455.50) scale(0.965,1)" class="tb" text-anchor="middle">194</text><text transform="translate(437.19,455.50) scale(0.965,1)" class="tb" text-anchor="middle">195</text><text transform="translate(522.34,455.50) scale(0.965,1)" class="tb" text-anchor="middle">196</text><text transform="translate(607.49,455.50) scale(0.965,1)" class="tb" text-anchor="middle">197</text>
</svg>
</body></html>
